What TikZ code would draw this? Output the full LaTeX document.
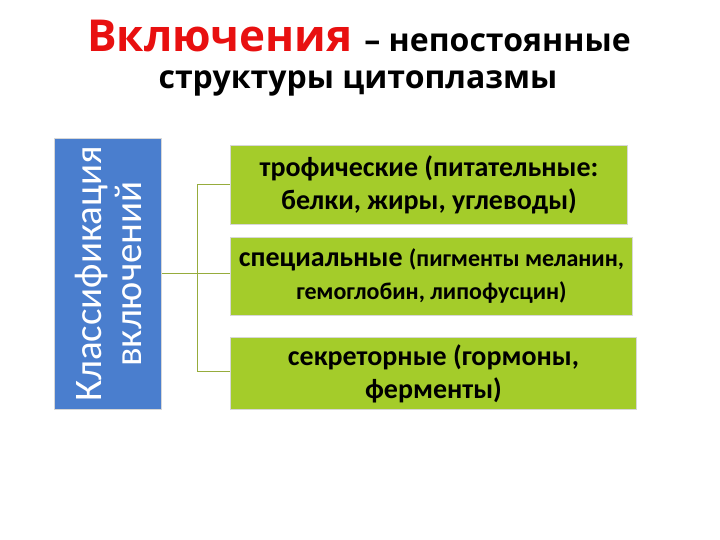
\documentclass[tikz,border=0pt]{standalone}
\usepackage{fontspec}
\setmainfont{Carlito}
\newfontfamily\titlefont{Open Sans}
\definecolor{titlered}{RGB}{232,16,16}
\definecolor{boxblue}{RGB}{74,126,206}
\definecolor{boxgreen}{RGB}{164,204,42}
\definecolor{linegreen}{RGB}{150,172,60}
\definecolor{edgegray}{RGB}{215,215,215}
\tikzset{
  greenbox/.style={draw=edgegray, line width=1pt, fill=boxgreen, inner sep=0pt, align=center, font=\bfseries\fontsize{28}{33}\selectfont},
  conn/.style={draw=linegreen, line width=1pt}
}
\begin{document}
\begin{tikzpicture}[x=1pt,y=-1pt]
\useasboundingbox (0,0) rectangle (720,540);
% title
\node[anchor=base, inner sep=0pt, font=\titlefont\bfseries] (t1) at (359,52)
  {{\color{titlered}\fontsize{44}{48}\selectfont Включения}\hspace{12pt}{\fontsize{32}{36}\selectfont – непостоянные}};
\node[anchor=base, inner sep=0pt, font=\titlefont\bfseries\fontsize{32}{36}\selectfont] (t2) at (358,89) {структуры цитоплазмы};
% blue box
\node[draw=edgegray, line width=1pt, fill=boxblue, minimum width=107pt, minimum height=271pt, inner sep=0pt, anchor=north west] (cls) at (54,138) {};
\node[rotate=90, text=white, align=center, font=\fontsize{39}{40}\selectfont] (clstext) at (cls.center) {Классификация\\включений};
% green boxes
\node[greenbox, minimum width=397pt, minimum height=79pt, anchor=north west] (b1) at (230,145)
  {трофические (питательные:\\белки, жиры, углеводы)};
\node[greenbox, minimum width=402pt, minimum height=78pt, anchor=north west] (b2) at (230,237)
  {специальные {\fontsize{24}{33}\selectfont(пигменты меланин,}\\{\fontsize{24}{33}\selectfont гемоглобин, липофусцин)}};
\node[greenbox, minimum width=406pt, minimum height=72pt, anchor=north west] (b3) at (230,337)
  {секреторные (гормоны,\\ферменты)};
% connectors
\coordinate (j) at (197,273);
\draw[conn] (cls.east |- j) -- (j);
\draw[conn] (197,185) -- (197,371);
\draw[conn] (197,185) -- (b1.west |- 0,185);
\draw[conn] (j) -- (b2.west |- j);
\draw[conn] (197,371) -- (b3.west |- 0,371);
\end{tikzpicture}
\end{document}
